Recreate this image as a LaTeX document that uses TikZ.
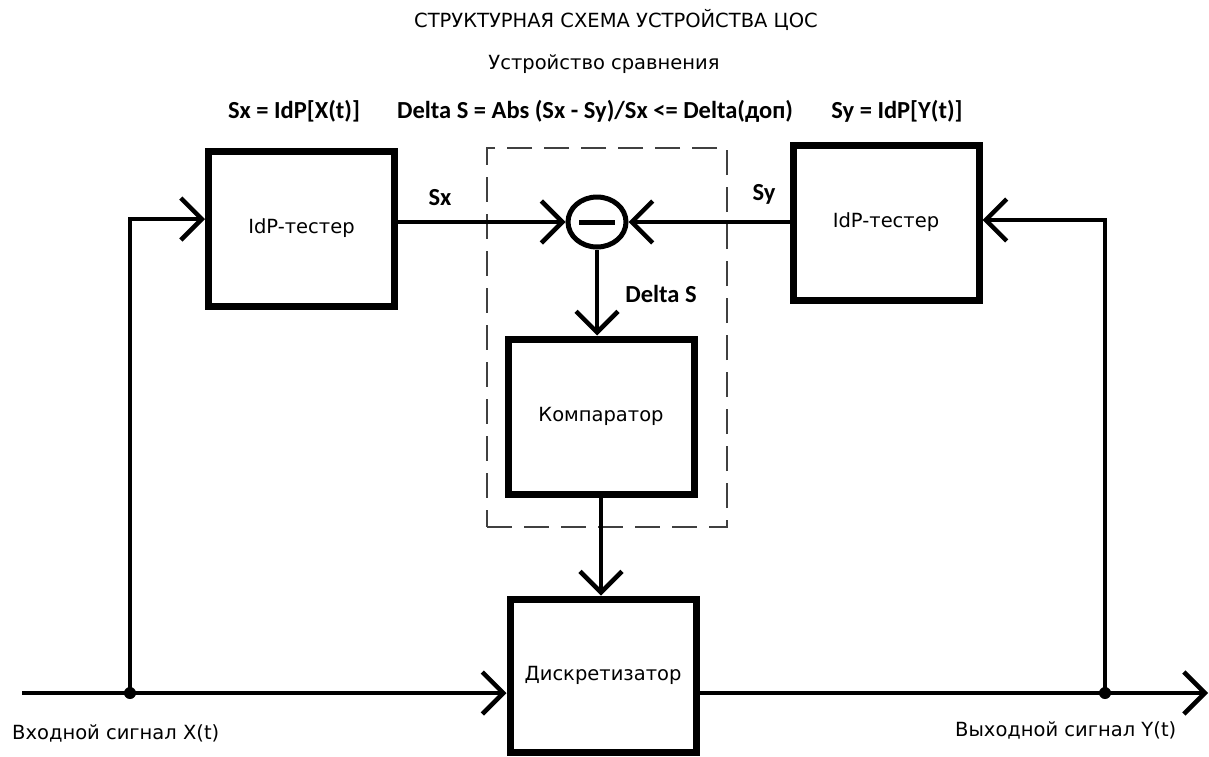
\documentclass[tikz,border=0pt]{standalone}
\usepackage{fontspec}
\setmainfont{DejaVu Sans}
\newfontfamily\calib{Carlito}
\usetikzlibrary{arrows.meta,shapes.geometric}
\begin{document}
\begin{tikzpicture}[x=1pt,y=-1pt,
 box/.style={draw,line width=7pt,rectangle,inner sep=0,minimum width=186pt,minimum height=155pt,font=\fontsize{19.5}{23}\selectfont},
 wire/.style={line width=4pt},
 arr/.style={wire,-{Straight Barb[length=21pt,width=42pt,line width=4.5pt]}},
 txt/.style={font=\fontsize{19.5}{23}\selectfont,inner sep=0},
 lbl/.style={font=\calib\bfseries\fontsize{24.5}{28}\selectfont,inner sep=0},
 dot/.style={circle,fill,inner sep=0,minimum size=12pt}]
\useasboundingbox (0,0) rectangle (1209,756);
\fill[white] (0,0) rectangle (1209,756);
% frame
\node[draw=black!75,line width=1.5pt,dash pattern=on 25pt off 12pt,minimum width=240pt,minimum height=379pt,inner sep=0] (frame) at (607,337.5) {};
% boxes
\node[box] (lt) at (301.5,228.5) {IdP-тестер};
\node[box] (rt) at (886,222.5) {IdP-тестер};
\node[box] (comp) at (601,416.5) {Компаратор};
\node[box,minimum height=153pt] (disc) at (603,675.5) {Дискретизатор};
\node[draw,ellipse,line width=5pt,minimum width=58pt,minimum height=50pt,inner sep=0] (sub) at (597,222) {};
\draw[line width=5pt] ([xshift=-18pt]sub.center) -- ([xshift=18pt]sub.center);
% junctions
\coordinate (in) at (22,693);
\node[dot] (j1) at (130,693) {};
\node[dot] (j2) at (1105,693) {};
\coordinate (out) at (1208,693);
% wires
\draw[wire] (in) -- (j1.center);
\draw[arr] (j1.center) -- (j1.center -| disc.west);
\draw[arr] (j1.center) |- ([yshift=9.5pt]lt.west);
\draw[arr] (lt.east |- sub.west) -- (sub.west);
\draw[arr] (rt.west |- sub.east) -- (sub.east);
\draw[arr] (sub.south) -- (sub.south |- comp.north);
\draw[arr] (comp.south) -- (comp.south |- disc.north);
\draw[wire] (disc.east |- j2) -- (j2.center);
\draw[arr] (j2.center) -- (out);
\draw[arr] (j2.center) |- ([yshift=2.5pt]rt.east);
% texts
\node[txt] (title) at (616,20) {СТРУКТУРНАЯ СХЕМА УСТРОЙСТВА ЦОС};
\node[txt] (cmp) at (604,64) {Устройство сравнения};
\node[lbl] (fx) at (294,111) {Sx = IdP[X(t)]};
\node[lbl] (fd) at (595,111) {Delta S = Abs (Sx - Sy)/Sx <= Delta(доп)};
\node[lbl] (fy) at (897,111) {Sy = IdP[Y(t)]};
\node[lbl] (lsx) at (440,198) {Sx};
\node[lbl] (lsy) at (764,194) {Sy};
\node[lbl] (lds) at (661,294) {Delta S};
\node[txt,anchor=west] (lin) at (12,733) {Входной сигнал X(t)};
\node[txt,anchor=west] (lout) at (955,730) {Выходной сигнал Y(t)};
\end{tikzpicture}
\end{document}
